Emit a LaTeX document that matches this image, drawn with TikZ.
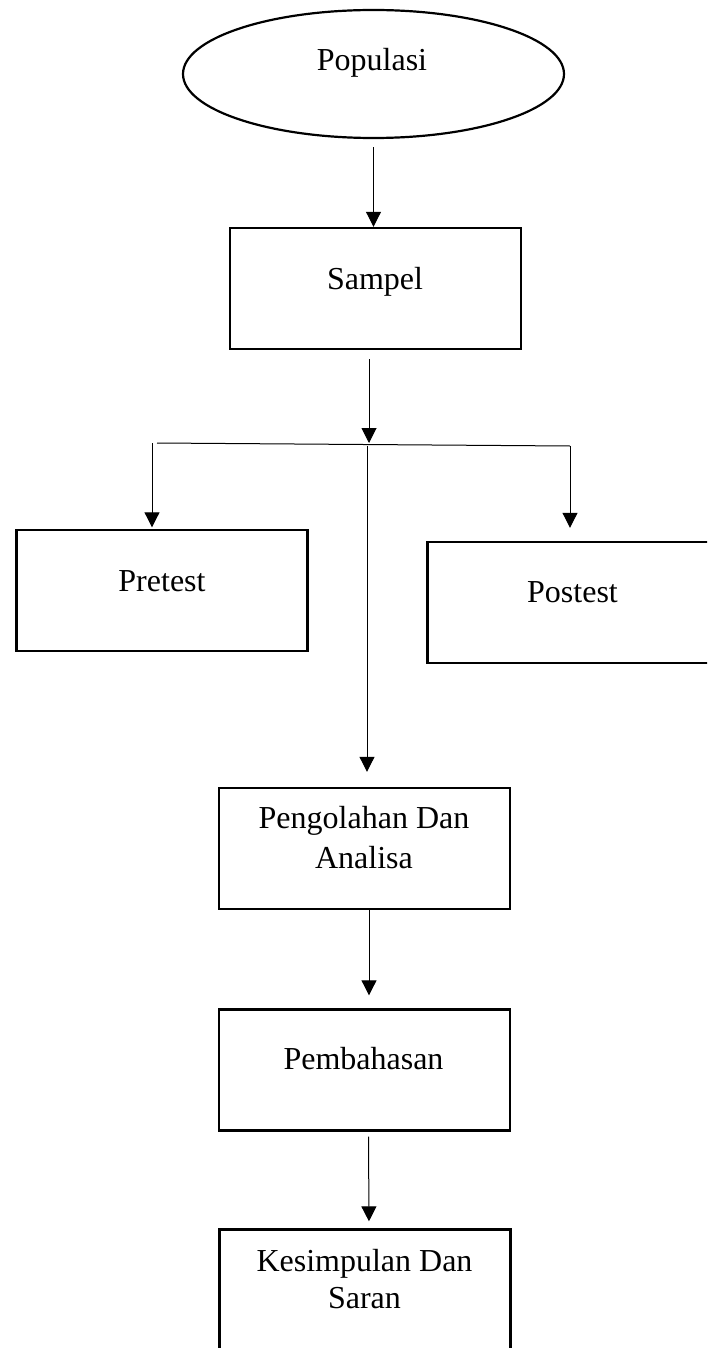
\documentclass[tikz,border=0pt]{standalone}
\usepackage{fontspec}
\setmainfont{Liberation Serif}
\usetikzlibrary{arrows.meta,shapes.geometric}
\tikzset{
  boxnode/.style={draw, line width=2.4pt, rectangle, inner sep=0pt, minimum width=291pt, minimum height=121pt},
  ellnode/.style={draw, line width=2.2pt, ellipse, inner sep=0pt, minimum width=381pt, minimum height=128pt},
  txt/.style={anchor=base, inner sep=0pt, align=center, font=\fontsize{32}{40}\selectfont},
  arr/.style={line width=1pt, -{Triangle[width=15pt,length=15pt]}},
  ln/.style={line width=1pt}
}
\begin{document}
\begin{tikzpicture}[x=1pt,y=-1pt]
\clip (0,0) rectangle (707,1348);
\fill[white] (0,0) rectangle (707,1348);
% shapes
\node[ellnode] (pop) at (373.5,74) {};
\node[boxnode] (sam) at (375.5,288.5) {};
\node[boxnode] (pre) at (162,590.5) {};
\node[boxnode] (post) at (573,602.5) {};
\node[boxnode] (peng) at (364.5,848.5) {};
\node[boxnode] (pemb) at (364.5,1070) {};
\node[boxnode] (kes) at (365,1290) {};
% texts (base anchor = baseline of last line)
\node[txt] (tpop) at (372,71) {Populasi};
\node[txt] (tsam) at (375,289) {Sampel};
\node[txt] (tpre) at (162,591) {Pretest};
\node[txt] (tpost) at (572.5,602) {Postest};
\node[txt] (tpeng) at (364,868) {Pengolahan Dan\\Analisa};
\node[txt] (tpemb) at (363.5,1069) {Pembahasan};
\node[txt, font=\fontsize{32}{37.5}\selectfont] (tkes) at (364.5,1308.5) {Kesimpulan Dan\\Saran};
% junction coordinates
\coordinate (js) at (369,359);
\coordinate (jc) at (369,443);
\coordinate (hl) at (157,443);
\coordinate (hr) at (570,446);
\coordinate (bl) at (152,443);
\coordinate (bm) at (367,446);
% connectors
\draw[arr] ([yshift=-8pt]pop.south) -- (pop.south |- sam.north);
\draw[arr] (js) -- (jc);
\draw[ln] (hl) -- (hr);
\draw[arr, shorten >=1.5pt] (bl) -- (bl |- pre.north);
\draw[arr, shorten >=13pt] (hr) -- (hr |- post.north);
\draw[arr, shorten >=15pt] (bm) -- (bm |- peng.north);
\draw[arr, shorten >=13pt] ([xshift=4.5pt]peng.south) -- ([xshift=4.5pt]pemb.north);
\draw[arr, shorten <=5pt, shorten >=7pt] ([xshift=4pt]pemb.south) -- ([xshift=4pt]kes.north);
\end{tikzpicture}
\end{document}
